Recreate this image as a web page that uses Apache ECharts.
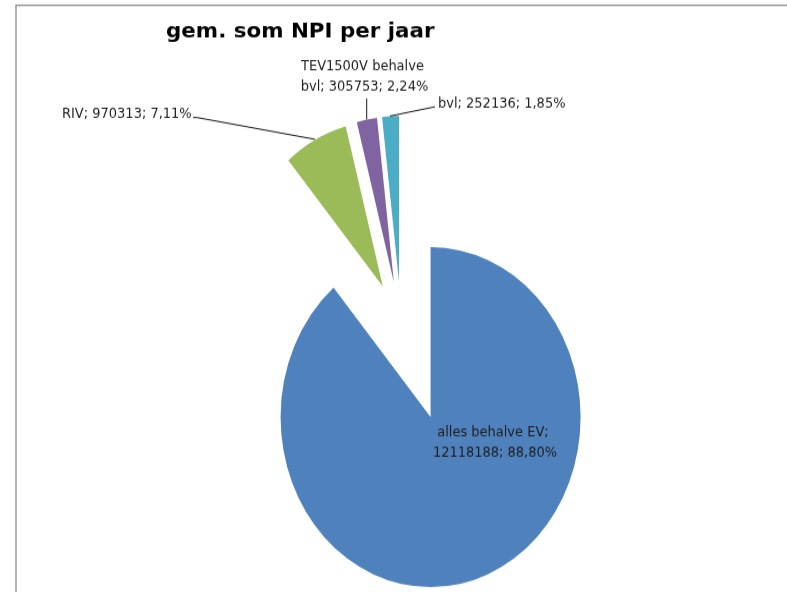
<!DOCTYPE html>
<html>
<head>
<meta charset="utf-8">
<title>gem. som NPI per jaar</title>
<script src="https://cdn.jsdelivr.net/npm/echarts@6/dist/echarts.min.js"></script>
<style>
  html { margin: 0; padding: 0; background: #fff; overflow: hidden; }
  body { margin: 0; padding: 0; width: 787px; height: 592px; background: #fff; }
  /* the drawing is stretched vertically, so the pie shows as an upright ellipse */
  #chart {
    width: 787px;
    height: 523px;
    transform: scaleY(1.1333);
    transform-origin: 0 0;
  }
</style>
</head>
<body>
<div id="chart"></div>
<script>
// Average NPI sum per year, by category
const categories = ['alles behalve EV', 'RIV', 'TEV1500V behalve bvl', 'bvl'];
const values = [12118188, 970313, 305753, 252136];
const colors = ['#4f81bd', '#9bbb59', '#8064a2', '#4bacc6'];
const titleText = 'gem. som NPI per jaar';

// Data label placement (chart pixels, before the vertical stretch)
const labelSpots = [
  { x: 495, y: 390.5, align: 'center', wrap: true, line: null },
  { x: 62, y: 100.6, align: 'left', wrap: false, line: [[193, 103.7], [197, 103.7], [315, 122.9]] },
  { x: 364.5, y: 67.7, align: 'center', wrap: true, line: [[366.7, 86.8], [366.7, 105.3]] },
  { x: 438, y: 91.2, align: 'left', wrap: false, line: [[435, 94.2], [390, 102.4]] }
];

const total = values.reduce((a, b) => a + b, 0);

function fmtLabel(i) {
  const pct = (values[i] / total * 100).toFixed(2).replace('.', ',');
  return categories[i] + '; ' + values[i] + '; ' + pct + '%';
}

// shown: which indexes this series paints; the rest stay invisible
function buildData(shown) {
  return categories.map((name, i) => {
    const on = shown.indexOf(i) !== -1;
    return {
      name: name,
      value: values[i],
      selected: on,
      itemStyle: { color: on ? colors[i] : 'rgba(0,0,0,0)' }
    };
  });
}

const pieBase = {
  type: 'pie',
  center: [401.3, 288.3],
  radius: 150,
  startAngle: 90,
  clockwise: true,
  selectedMode: 'multiple',
  emphasis: { disabled: true },
  silent: true,
  label: { show: false },
  labelLine: { show: false }
};

// frame, title, data labels and leader lines
const graphics = [
  {
    type: 'polyline',
    shape: { points: [[16, 530], [16, 4.6], [800, 4.6]] },
    style: { stroke: '#8a8a8a', lineWidth: 1.3, fill: null },
    silent: true
  },
  {
    type: 'text',
    x: 166,
    y: 28.4,
    scaleX: 1.21,
    style: {
      text: titleText,
      fontFamily: 'DejaVu Sans',
      fontWeight: 'bold',
      fontSize: 17.7,
      fill: '#000',
      align: 'left',
      verticalAlign: 'middle'
    },
    silent: true
  }
];

labelSpots.forEach((s, i) => {
  const style = {
    text: fmtLabel(i),
    fontFamily: 'DejaVu Sans',
    fontSize: 13,
    lineHeight: 18,
    fill: '#1e1e1e',
    align: s.align,
    verticalAlign: 'middle'
  };
  if (s.wrap) {
    style.width = 132;
    style.overflow = 'break';
  }
  graphics.push({ type: 'text', x: s.x, y: s.y, style: style, silent: true, z: 10 });
  if (s.line) {
    graphics.push({
      type: 'polyline',
      shape: { points: s.line },
      style: { stroke: '#1a1a1a', lineWidth: 1, fill: null },
      silent: true,
      z: 10
    });
  }
});

const chart = echarts.init(document.getElementById('chart'), null, { renderer: 'canvas' });

chart.setOption({
  animation: false,
  backgroundColor: '#ffffff',
  graphic: graphics,
  series: [
    Object.assign({}, pieBase, {
      name: 'groot',
      selectedOffset: 85,
      data: buildData([0])
    }),
    Object.assign({}, pieBase, {
      name: 'klein',
      radius: 146,
      selectedOffset: 40,
      data: buildData([1, 2, 3])
    })
  ]
});
</script>
</body>
</html>
